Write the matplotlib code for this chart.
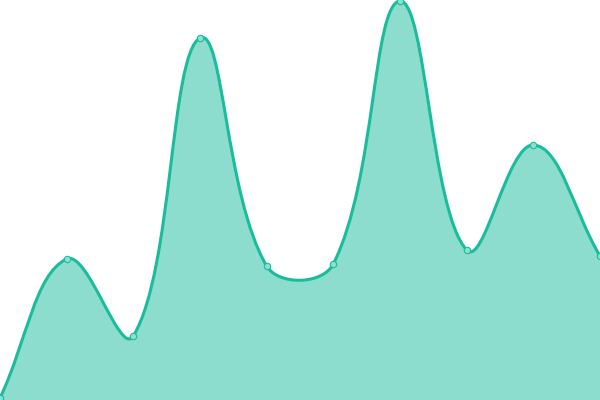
import numpy as np
import matplotlib
matplotlib.use('Agg')
import matplotlib.pyplot as plt
from matplotlib.path import Path
from matplotlib.patches import PathPatch

# 数据
positions = list(range(10))
values = [2, 141, 64, 362, 134, 136, 399, 150, 255, 144]
y_max = 400
tension = 0.4
line_color = '#1abc9c'

fig = plt.figure(figsize=(6, 4), dpi=100)
ax = fig.add_axes([0, 0, 1, 1])
ax.set_xlim(positions[0], positions[-1])
ax.set_ylim(0, y_max)
ax.axis('off')

# 在像素座標中計算平滑曲線的控制點
pts = ax.transData.transform(np.column_stack([positions, values]))
bbox = ax.bbox
n = len(pts)
cps = []
for i in range(n):
    cur = pts[i]
    prev = pts[i - 1] if i > 0 else cur
    nxt = pts[i + 1] if i < n - 1 else cur
    d01 = np.hypot(*(cur - prev))
    d12 = np.hypot(*(nxt - cur))
    s01 = d01 / (d01 + d12)
    s12 = d12 / (d01 + d12)
    cp_prev = cur - tension * s01 * (nxt - prev)
    cp_next = cur + tension * s12 * (nxt - prev)
    cp_prev = np.clip(cp_prev, [bbox.x0, bbox.y0], [bbox.x1, bbox.y1])
    cp_next = np.clip(cp_next, [bbox.x0, bbox.y0], [bbox.x1, bbox.y1])
    cps.append((cp_prev, cp_next))

verts = [pts[0]]
codes = [Path.MOVETO]
for i in range(1, n):
    verts += [cps[i - 1][1], cps[i][0], pts[i]]
    codes += [Path.CURVE4] * 3

inv = ax.transData.inverted()
curve = inv.transform(np.array(verts))

line_path = Path(curve, codes)
base = inv.transform([pts[-1][0], bbox.y0])
start = inv.transform([pts[0][0], bbox.y0])
area_path = Path(np.vstack([curve, [base, start, curve[0]]]),
                 codes + [Path.LINETO, Path.LINETO, Path.CLOSEPOLY])

ax.add_patch(PathPatch(area_path, facecolor=line_color, alpha=0.5, edgecolor='none'))
ax.add_patch(PathPatch(line_path, facecolor='none', edgecolor=line_color, lw=2.2))
ax.plot(positions, values, 'o', ms=4.6, mfc='#8be0d0', mec=line_color, mew=0.8,
        clip_on=False, zorder=5)

fig.savefig('out.png', dpi=100)
